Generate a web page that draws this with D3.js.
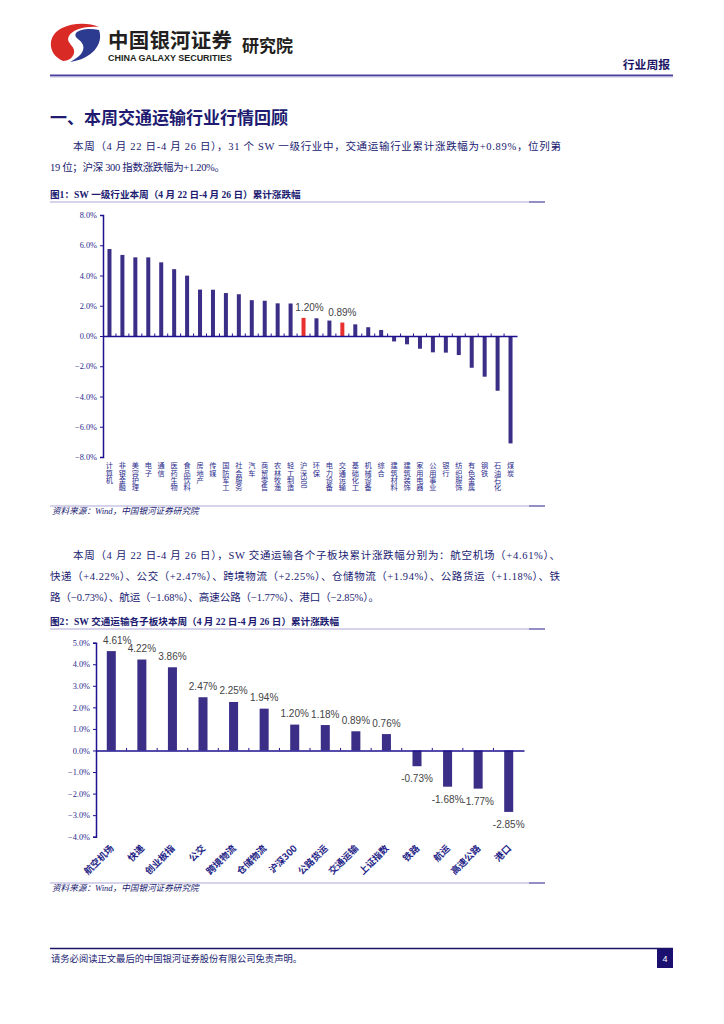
<!DOCTYPE html>
<html>
<head>
<meta charset="utf-8">
<script src="https://cdn.jsdelivr.net/npm/d3@7"></script>
<style>
  body { margin: 0; background: #fff; }
  svg { display: block; }
  .cjk { font-family: "Noto Sans CJK SC", "Noto Sans", sans-serif; }
  .serif { font-family: "Liberation Serif", "Noto Sans CJK SC", serif; }
  .sans { font-family: "Liberation Sans", Arial, sans-serif; }
</style>
</head>
<body>
<svg id="page" width="724" height="1024"></svg>
<script>
// figure 1: SW level-1 industries, weekly change (%)
var industries = ["计算机","非银金融","美容护理","电子","通信","医药生物","食品饮料","房地产","传媒",
  "国防军工","社会服务","汽车","商贸零售","农林牧渔","轻工制造","沪深300","环保","电力设备","交通运输",
  "基础化工","机械设备","综合","建筑材料","建筑装饰","家用电器","公用事业","银行","纺织服饰","有色金属",
  "钢铁","石油石化","煤炭"];
var industryChange = [5.75,5.36,5.20,5.20,4.87,4.42,3.99,3.07,3.06,2.84,2.76,2.37,2.33,2.16,2.15,
  1.20,1.17,1.02,0.89,0.77,0.58,0.40,-0.36,-0.55,-0.84,-1.08,-1.10,-1.26,-2.10,-2.69,-3.62,-7.10];
var highlighted = ["沪深300","交通运输"];
var ticks1 = [-8,-6,-4,-2,0,2,4,6,8];

// figure 2: transport sub-sectors, weekly change (%)
var sectors = ["航空机场","快递","创业板指","公交","跨境物流","仓储物流","沪深300","公路货运",
  "交通运输","上证指数","铁路","航运","高速公路","港口"];
var sectorChange = [4.61,4.22,3.86,2.47,2.25,1.94,1.20,1.18,0.89,0.76,-0.73,-1.68,-1.77,-2.85];
var ticks2 = [-4,-3,-2,-1,0,1,2,3,4,5];

var navy = "#201a70", axisBlue = "#1e1090", barBlue = "#3a2e86", red = "#e8302e";
var pct = function (v) { return d3.format(".1f")(v) + "%"; };

var svg = d3.select("#page");

// ---------- header ----------
var logo = svg.append("g");
logo.append("path")
  .attr("d", "M63,61 C47,54 47,35 62,28 C72,23 88,22 99,27 C86,26 73,29 69,36 C65,43 76,46 74,53 C73,58 68,61 63,61 Z")
  .attr("fill", "#d92a26");
logo.append("path")
  .attr("d", "M99,30 C104,44 92,59 70,62 C80,57 85,51 83,45 C81,39 73,38 76,33 C80,29 90,28 99,30 Z")
  .attr("fill", "#2c3a8f");

svg.append("text").attr("class", "cjk").attr("x", 108).attr("y", 48)
  .attr("font-size", 20.5).attr("font-weight", 700).attr("fill", "#231f20")
  .attr("textLength", 124).text("中国银河证券");
svg.append("text").attr("class", "sans").attr("x", 108).attr("y", 60.5)
  .attr("font-size", 8.6).attr("font-weight", 700).attr("fill", "#231f20")
  .attr("textLength", 124).attr("lengthAdjust", "spacingAndGlyphs").text("CHINA GALAXY SECURITIES");
svg.append("text").attr("class", "cjk").attr("x", 242).attr("y", 52)
  .attr("font-size", 17).attr("font-weight", 700).attr("fill", "#231f20").text("研究院");
svg.append("text").attr("class", "cjk").attr("x", 670).attr("y", 69)
  .attr("text-anchor", "end").attr("font-size", 11.8).attr("font-weight", 700).attr("fill", "#1b1464")
  .text("行业周报");
svg.append("line").attr("x1", 50).attr("x2", 673).attr("y1", 75.5).attr("y2", 75.5)
  .attr("stroke", "#4a40a0").attr("stroke-width", 2);
svg.append("line").attr("x1", 50).attr("x2", 673).attr("y1", 77.2).attr("y2", 77.2)
  .attr("stroke", "#d6d3ea").attr("stroke-width", 1);

// ---------- body text ----------
svg.append("text").attr("class", "cjk").attr("x", 50).attr("y", 124)
  .attr("font-size", 17).attr("font-weight", 700).attr("fill", navy)
  .text("一、本周交通运输行业行情回顾");

function para(lines, y0, lh) {
  lines.forEach(function (l, i) {
    var t = svg.append("text").attr("class", "serif")
      .attr("x", l.x).attr("y", y0 + i * lh)
      .attr("font-size", 10.5).attr("fill", navy).text(l.t);
    if (l.w) t.attr("textLength", l.w).attr("lengthAdjust", "spacing");
  });
}
para([
  { x: 73, w: 488, t: "本周（4 月 22 日-4 月 26 日），31 个 SW 一级行业中，交通运输行业累计涨跌幅为+0.89%，位列第" },
  { x: 50, w: 175, t: "19 位；沪深 300 指数涨跌幅为+1.20%。" }
], 150, 20.5);

para([
  { x: 73, w: 487, t: "本周（4 月 22 日-4 月 26 日），SW 交通运输各个子板块累计涨跌幅分别为：航空机场（+4.61%）、" },
  { x: 50, w: 510, t: "快递（+4.22%）、公交（+2.47%）、跨境物流（+2.25%）、仓储物流（+1.94%）、公路货运（+1.18%）、铁" },
  { x: 50, w: 329, t: "路（−0.73%）、航运（−1.68%）、高速公路（−1.77%）、港口（−2.85%）。" }
], 559, 21);

function rule(y) {
  svg.append("line").attr("x1", 50).attr("x2", 545).attr("y1", y).attr("y2", y)
    .attr("stroke", "#c9c5e3").attr("stroke-width", 1.3);
  svg.append("line").attr("x1", 529).attr("x2", 545).attr("y1", y).attr("y2", y)
    .attr("stroke", "#6f68b2").attr("stroke-width", 1.3);
}
function caption(txt, y) {
  svg.append("text").attr("class", "serif").attr("x", 50).attr("y", y)
    .attr("font-size", 9.6).attr("font-weight", 700).attr("fill", navy).text(txt);
  rule(y + 4);
}
function source(y) {
  rule(y - 7);
  svg.append("text").attr("class", "serif").attr("x", 52).attr("y", y + 1)
    .attr("font-size", 8.6).attr("font-style", "italic").attr("fill", navy)
    .text("资料来源：Wind，中国银河证券研究院");
}

caption("图1：SW 一级行业本周（4 月 22 日-4 月 26 日）累计涨跌幅", 198);
caption("图2：SW 交通运输各子板块本周（4 月 22 日-4 月 26 日）累计涨跌幅", 625);
source(513);
source(890);

// ---------- chart 1 ----------
var x1 = d3.scaleBand().domain(industries).range([103, 517]).paddingInner(0.69).paddingOuter(0.345);
var y1 = d3.scaleLinear().domain([-8, 8]).range([457, 215]);
var c1 = svg.append("g");

c1.selectAll("rect.bar").data(industries).enter().append("rect")
  .attr("class", "bar")
  .attr("x", function (d) { return x1(d); })
  .attr("width", x1.bandwidth())
  .attr("y", function (d, i) { return y1(Math.max(0, industryChange[i])); })
  .attr("height", function (d, i) { return Math.abs(y1(industryChange[i]) - y1(0)); })
  .attr("fill", function (d) { return highlighted.indexOf(d) >= 0 ? red : barBlue; });

c1.selectAll("text.val").data(highlighted).enter().append("text")
  .attr("class", "sans val")
  .attr("x", function (d) { return x1(d) + x1.bandwidth() / 2; })
  .attr("dx", function (d, i) { return i === 0 ? 6 : 0; })
  .attr("y", function (d) { return y1(industryChange[industries.indexOf(d)]) - 7; })
  .attr("text-anchor", "middle").attr("font-size", 10).attr("fill", "#444")
  .text(function (d) { return industryChange[industries.indexOf(d)].toFixed(2) + "%"; });

var yAxis1 = c1.append("g").attr("transform", "translate(103,0)")
  .call(d3.axisLeft(y1).tickValues(ticks1).tickFormat(pct).tickSize(3));
var xAxis1 = c1.append("g").attr("transform", "translate(0," + y1(0) + ")")
  .call(d3.axisBottom(x1).tickSize(0).tickFormat(""));
c1.append("g").selectAll("line").data(industries.slice(1)).enter().append("line")
  .attr("x1", function (d) { return x1(d) - x1.step() * x1.paddingInner() / 2; })
  .attr("x2", function (d) { return x1(d) - x1.step() * x1.paddingInner() / 2; })
  .attr("y1", y1(0)).attr("y2", y1(0) - 2.5)
  .attr("stroke", axisBlue).attr("stroke-width", 1);

c1.selectAll("text.cat").data(industries).enter().append("text")
  .attr("class", "cjk cat")
  .attr("x", function (d) { return x1(d) + x1.bandwidth() / 2; })
  .attr("y", 462)
  .style("writing-mode", "vertical-rl")
  .attr("font-size", 7.2).attr("fill", "#2a2a8c")
  .text(function (d) { return d; });

// ---------- chart 2 ----------
var x2 = d3.scaleBand().domain(sectors).range([96, 524]).paddingInner(0.705).paddingOuter(0.3525);
var y2 = d3.scaleLinear().domain([-4, 5]).range([836.7, 642.7]);
var c2 = svg.append("g");

c2.selectAll("rect.bar").data(sectors).enter().append("rect")
  .attr("class", "bar")
  .attr("x", function (d) { return x2(d); })
  .attr("width", x2.bandwidth())
  .attr("y", function (d, i) { return y2(Math.max(0, sectorChange[i])); })
  .attr("height", function (d, i) { return Math.abs(y2(sectorChange[i]) - y2(0)); })
  .attr("fill", barBlue);

c2.selectAll("text.val").data(sectors).enter().append("text")
  .attr("class", "sans val")
  .attr("x", function (d) { return x2(d) + x2.bandwidth() / 2; })
  .attr("dx", function (d, i) { return i === 0 ? 6 : 0; })
  .attr("y", function (d, i) {
    var v = sectorChange[i];
    return v >= 0 ? y2(v) - 7.5 : y2(v) + 16;
  })
  .attr("text-anchor", "middle").attr("font-size", 10).attr("fill", "#444")
  .text(function (d, i) { return sectorChange[i].toFixed(2) + "%"; });

var yAxis2 = c2.append("g").attr("transform", "translate(96,0)")
  .call(d3.axisLeft(y2).tickValues(ticks2).tickFormat(pct).tickSize(3));
var xAxis2 = c2.append("g").attr("transform", "translate(0," + y2(0) + ")")
  .call(d3.axisBottom(x2).tickSize(0).tickFormat(""));
c2.append("g").selectAll("line").data(sectors.slice(1)).enter().append("line")
  .attr("x1", function (d) { return x2(d) - x2.step() * x2.paddingInner() / 2; })
  .attr("x2", function (d) { return x2(d) - x2.step() * x2.paddingInner() / 2; })
  .attr("y1", y2(0)).attr("y2", y2(0) - 2.5)
  .attr("stroke", axisBlue).attr("stroke-width", 1);

c2.selectAll("text.cat").data(sectors).enter().append("text")
  .attr("class", "cjk cat")
  .attr("transform", function (d) {
    return "translate(" + (x2(d) + x2.bandwidth() / 2 + 3) + ",849) rotate(-45)";
  })
  .attr("text-anchor", "end")
  .attr("font-size", 9.3).attr("font-weight", 700).attr("fill", "#241e86")
  .text(function (d) { return d; });

// axis styling shared by both charts
[yAxis1, xAxis1, yAxis2, xAxis2].forEach(function (ax) {
  ax.select(".domain").attr("stroke", axisBlue).attr("stroke-width", 1.5);
  ax.selectAll(".tick line").attr("stroke", axisBlue);
  ax.selectAll(".tick text").attr("class", "serif").attr("font-size", 8.3)
    .attr("fill", "#2a2a8c").attr("x", -6);
});

// ---------- footer ----------
svg.append("line").attr("x1", 50).attr("x2", 673).attr("y1", 948.5).attr("y2", 948.5)
  .attr("stroke", "#1b1464").attr("stroke-width", 1.4);
svg.append("text").attr("class", "serif").attr("x", 51).attr("y", 962)
  .attr("font-size", 9.3).attr("fill", navy)
  .text("请务必阅读正文最后的中国银河证券股份有限公司免责声明。");
svg.append("rect").attr("x", 657).attr("y", 949).attr("width", 16).attr("height", 19)
  .attr("fill", "#1b1070");
svg.append("text").attr("class", "sans").attr("x", 665).attr("y", 962)
  .attr("text-anchor", "middle").attr("font-size", 9).attr("fill", "#fff").text("4");
</script>
</body>
</html>
